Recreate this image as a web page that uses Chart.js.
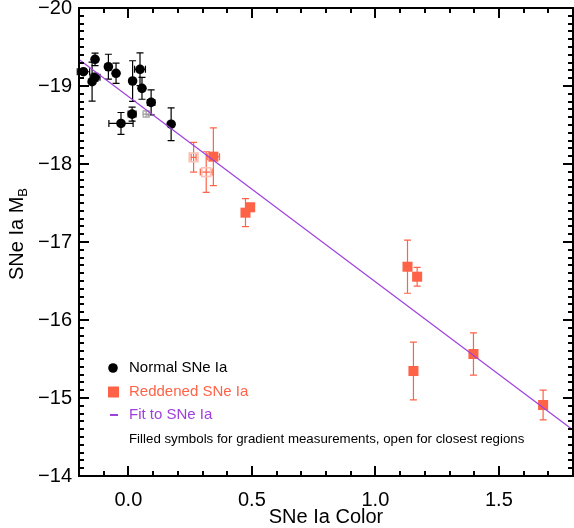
<!DOCTYPE html>
<html>
<head>
<meta charset="utf-8">
<script src="https://cdn.jsdelivr.net/npm/chart.js@4.4.0/dist/chart.umd.min.js"></script>
<style>
  html, body { margin: 0; padding: 0; background: #fff; }
  #wrap { width: 574px; height: 528px; }
</style>
</head>
<body>
<div id="wrap"><canvas id="snChart" width="574" height="528"></canvas></div>
<script>
// --- Data ---

// normal SNe Ia, gradient measurements (filled circles)
const normalColor    = [-0.182, -0.135, -0.147, -0.135, -0.081, -0.050, 0.017, 0.047, 0.055, 0.092, 0.015, -0.030, 0.173];
const normalMag      = [-19.183, -19.342, -19.055, -19.112, -19.247, -19.163, -19.064, -19.214, -18.97, -18.79, -18.64, -18.52, -18.51];
const normalColorErr = [0.025, 0, 0, 0.02, 0, 0, 0, 0.022, 0, 0.015, 0.016, 0.049, 0];
const normalMagErr   = [0.03, 0.08, 0.25, 0.05, 0.16, 0.13, 0.26, 0.21, 0.14, 0.16, 0.09, 0.14, 0.21];

// normal SNe Ia, closest regions (open circle)
const normalOpenColor    = [0.072];
const normalOpenMag      = [-18.64];
const normalOpenColorErr = [0.012];
const normalOpenMagErr   = [0.04];

// reddened SNe Ia, gradient measurements (filled squares)
const reddenedColor    = [0.344, 0.474, 0.493, 1.130, 1.169, 1.154, 1.397, 1.679];
const reddenedMag      = [-18.094, -17.376, -17.445, -16.683, -16.555, -15.346, -15.564, -14.910];
const reddenedColorErr = [0.025, 0, 0, 0, 0, 0, 0, 0];
const reddenedMagErr   = [0.37, 0.18, 0.05, 0.34, 0.12, 0.37, 0.27, 0.19];

// reddened SNe Ia, closest regions (open squares)
const reddenedOpenColor    = [0.264, 0.315];
const reddenedOpenMag      = [-18.086, -17.897];
const reddenedOpenColorErr = [0.01, 0.024];
const reddenedOpenMagErr   = [0.19, 0.26];

// fit to SNe Ia
const fitColor = [-0.2, 1.8];
const fitMag   = [-19.34, -14.59];

// axes
const xTicks = [0, 0.5, 1.0, 1.5];
const yTicks = [-20, -19, -18, -17, -16, -15, -14];

const FONT = '"Liberation Sans", Arial, Helvetica, sans-serif';
const RED = '#ff6347';
const PALE_RED = '#fcc0b4';
const PURPLE = '#a040dc';

function toPoints(xs, ys) {
  return xs.map((v, i) => ({ x: v, y: ys[i] }));
}

// error bars, drawn behind the markers
const errorBars = {
  id: 'errorBars',
  beforeDatasetsDraw(chart) {
    const { ctx, scales: { x, y } } = chart;
    ctx.save();
    chart.data.datasets.forEach(ds => {
      if (!ds.errX) return;
      ctx.strokeStyle = ds.errColor;
      ctx.lineWidth = 1.2;
      ds.data.forEach((p, i) => {
        const px = x.getPixelForValue(p.x);
        const py = y.getPixelForValue(p.y);
        const ey = ds.errY[i], ex = ds.errX[i];
        const cap = 3.5;
        ctx.beginPath();
        if (ey > 0) {
          const y1 = y.getPixelForValue(p.y - ey), y2 = y.getPixelForValue(p.y + ey);
          ctx.moveTo(px, y1); ctx.lineTo(px, y2);
          ctx.moveTo(px - cap, y1); ctx.lineTo(px + cap, y1);
          ctx.moveTo(px - cap, y2); ctx.lineTo(px + cap, y2);
        }
        if (ex > 0) {
          const x1 = x.getPixelForValue(p.x - ex), x2 = x.getPixelForValue(p.x + ex);
          ctx.moveTo(x1, py); ctx.lineTo(x2, py);
          ctx.moveTo(x1, py - cap); ctx.lineTo(x1, py + cap);
          ctx.moveTo(x2, py - cap); ctx.lineTo(x2, py + cap);
        }
        ctx.stroke();
      });
    });
    ctx.restore();
  }
};

// box frame with inward ticks on all four sides, legend, titles
const decorations = {
  id: 'decorations',
  afterDraw(chart) {
    const { ctx, chartArea: a, scales: { x, y } } = chart;
    ctx.save();
    ctx.strokeStyle = '#000';
    ctx.lineWidth = 2;
    ctx.strokeRect(a.left, a.top, a.right - a.left, a.bottom - a.top);

    ctx.beginPath();
    for (let i = -2; i <= 18; i++) {
      const px = Math.round(x.getPixelForValue(i / 10));
      const len = i % 5 === 0 ? 10 : 5;
      ctx.moveTo(px, a.bottom); ctx.lineTo(px, a.bottom - len);
      ctx.moveTo(px, a.top); ctx.lineTo(px, a.top + len);
    }
    for (let i = -200; i <= -140; i++) {
      const py = Math.round(y.getPixelForValue(i / 10));
      const len = i % 10 === 0 ? 10 : 5;
      ctx.moveTo(a.left, py); ctx.lineTo(a.left + len, py);
      ctx.moveTo(a.right, py); ctx.lineTo(a.right - len, py);
    }
    ctx.stroke();

    // legend
    ctx.textAlign = 'left';
    ctx.textBaseline = 'middle';
    ctx.font = '15px ' + FONT;
    ctx.fillStyle = '#000';
    ctx.beginPath(); ctx.arc(113, 368, 4.8, 0, Math.PI * 2); ctx.fill();
    ctx.fillText('Normal SNe Ia', 129, 368);
    ctx.fillStyle = RED;
    ctx.fillRect(108, 386.5, 11, 11);
    ctx.fillText('Reddened SNe Ia', 129, 392);
    ctx.strokeStyle = PURPLE;
    ctx.lineWidth = 2;
    ctx.beginPath(); ctx.moveTo(110, 415); ctx.lineTo(118, 415); ctx.stroke();
    ctx.fillStyle = PURPLE;
    ctx.fillText('Fit to SNe Ia', 129, 415);
    ctx.fillStyle = '#000';
    ctx.font = '13.3px ' + FONT;
    ctx.fillText('Filled symbols for gradient measurements, open for closest regions', 129, 439);

    // x title
    ctx.font = '20px ' + FONT;
    ctx.textAlign = 'center';
    ctx.fillText('SNe Ia Color', (a.left + a.right) / 2, 517);

    // y title with subscript
    ctx.translate(17, 234);
    ctx.rotate(-Math.PI / 2);
    ctx.textAlign = 'left';
    const main = 'SNe Ia M';
    ctx.font = '20px ' + FONT;
    const w1 = ctx.measureText(main).width;
    ctx.font = '13px ' + FONT;
    const w2 = ctx.measureText('B').width;
    const start = -(w1 + w2) / 2;
    ctx.font = '20px ' + FONT;
    ctx.fillText(main, start, 0);
    ctx.font = '13px ' + FONT;
    ctx.fillText('B', start + w1, 6);
    ctx.restore();
  }
};

new Chart(document.getElementById('snChart'), {
  type: 'scatter',
  data: {
    datasets: [
      {
        type: 'line',
        data: toPoints(fitColor, fitMag),
        borderColor: PURPLE,
        borderWidth: 1.3,
        pointRadius: 0,
        order: 0
      },
      {
        data: toPoints(normalColor, normalMag),
        errX: normalColorErr, errY: normalMagErr, errColor: '#000',
        pointStyle: 'circle', pointRadius: 4.8,
        backgroundColor: '#000', borderColor: '#000', borderWidth: 0,
        order: 1
      },
      {
        data: toPoints(normalOpenColor, normalOpenMag),
        errX: normalOpenColorErr, errY: normalOpenMagErr, errColor: '#999',
        pointStyle: 'circle', pointRadius: 3.5,
        backgroundColor: 'rgba(0,0,0,0)', borderColor: '#bbb', borderWidth: 1,
        order: 2
      },
      {
        data: toPoints(reddenedColor, reddenedMag),
        errX: reddenedColorErr, errY: reddenedMagErr, errColor: RED,
        pointStyle: 'rect', pointRadius: 7.1,
        backgroundColor: RED, borderColor: RED, borderWidth: 0,
        order: 1
      },
      {
        data: toPoints(reddenedOpenColor, reddenedOpenMag),
        errX: reddenedOpenColorErr, errY: reddenedOpenMagErr, errColor: RED,
        pointStyle: 'rect', pointRadius: 6.2,
        backgroundColor: 'rgba(0,0,0,0)', borderColor: PALE_RED, borderWidth: 1.5,
        order: 2
      }
    ]
  },
  options: {
    responsive: false,
    animation: false,
    devicePixelRatio: 1,
    layout: { autoPadding: false, padding: { top: 8, right: 1, left: 0, bottom: 0 } },
    plugins: { legend: { display: false }, tooltip: { enabled: false } },
    scales: {
      x: {
        type: 'linear',
        min: -0.2, max: 1.8,
        grid: { display: false, drawTicks: false },
        border: { display: false },
        afterFit: s => { s.height = 52; s.paddingLeft = 0; s.paddingRight = 0; },
        afterBuildTicks: s => { s.ticks = xTicks.map(v => ({ value: v })); },
        ticks: {
          padding: 12,
          color: '#000',
          font: { family: FONT, size: 20 },
          callback: v => v.toFixed(1)
        }
      },
      y: {
        type: 'linear',
        min: -20, max: -14,
        reverse: true,
        grid: { display: false, drawTicks: false },
        border: { display: false },
        afterFit: s => { s.width = 79; s.paddingTop = 0; s.paddingBottom = 0; },
        afterBuildTicks: s => { s.ticks = yTicks.map(v => ({ value: v })); },
        ticks: {
          padding: 7,
          color: '#000',
          font: { family: FONT, size: 20 },
          callback: v => String(v).replace('-', '\u2212')
        }
      }
    }
  },
  plugins: [errorBars, decorations]
});
</script>
</body>
</html>
